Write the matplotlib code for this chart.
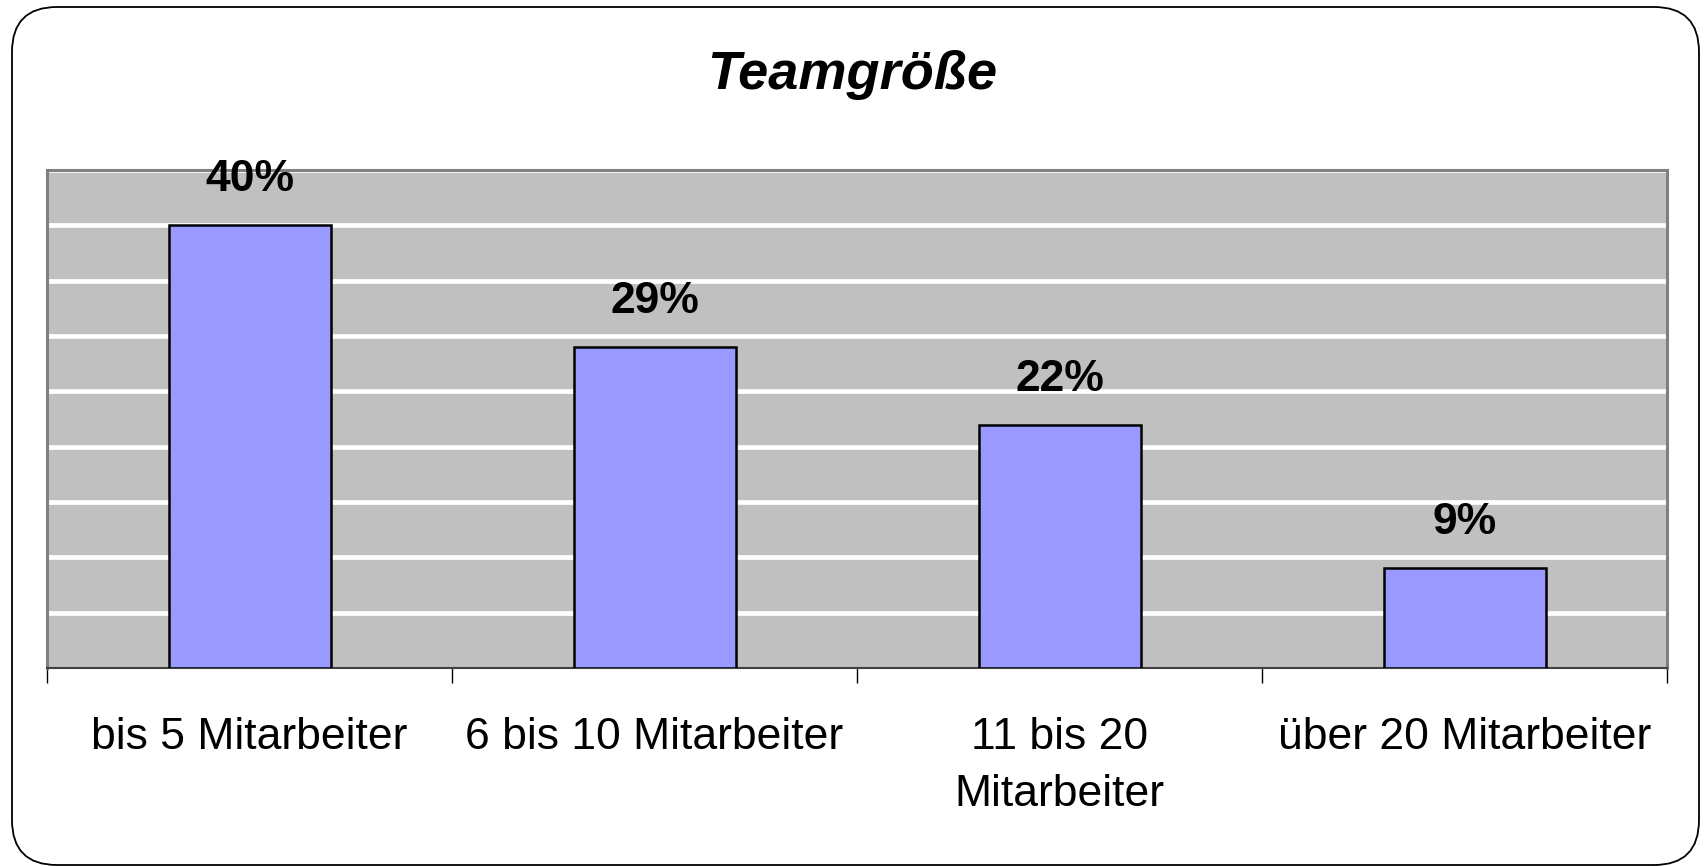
import matplotlib
matplotlib.use("Agg")
import matplotlib.pyplot as plt
from matplotlib.patches import FancyBboxPatch
import numpy as np

categories = ["bis 5 Mitarbeiter", "6 bis 10 Mitarbeiter", "11 bis 20\nMitarbeiter", "über 20 Mitarbeiter"]
values = [0.40, 0.29, 0.22, 0.09]
labels = ["40%", "29%", "22%", "9%"]
title = "Teamgröße"

plt.rcParams['font.family'] = ['Liberation Sans', 'DejaVu Sans']

W, H = 1704, 866
fig = plt.figure(figsize=(W / 100, H / 100), dpi=100)

# rounded outer frame (inches)
box = FancyBboxPatch((0.12, 0.01), 16.87, 8.58,
                     boxstyle="round,pad=0,rounding_size=0.45",
                     transform=fig.dpi_scale_trans, facecolor="none",
                     edgecolor="black", linewidth=1.3, zorder=-1)
fig.patches.append(box)

ax = fig.add_axes([47 / W, 1 - 668 / H, (1667 - 47) / W, (668 - 170) / H])
ax.set_facecolor("#C0C0C0")
x = np.arange(len(categories))
ax.set_xlim(-0.5, len(categories) - 0.5)
ax.set_ylim(0, 0.45)

for yv in np.arange(0.05, 0.451, 0.05):
    ax.axhline(yv, color="white", linewidth=3.4, zorder=1)

ax.bar(x, values, width=0.4, color="#9999FF", edgecolor="black", linewidth=1.8, zorder=3)

for xi, v, lab in zip(x, values, labels):
    ax.annotate(lab, (xi, v), xytext=(0, 18), textcoords="offset points",
                ha="center", va="bottom", fontsize=32, fontweight="bold", color="black")

ax.set_yticks([])
ax.set_xticks(x)
ax.set_xticklabels(categories, fontsize=32, linespacing=1.5)
ax.tick_params(axis="x", which="major", length=0, pad=35)
ax.set_xticks(np.arange(-0.5, len(categories)), minor=True)
ax.tick_params(axis="x", which="minor", length=11, width=1.0, color="black")

for s in ["top", "right", "left"]:
    ax.spines[s].set_color("#808080")
    ax.spines[s].set_linewidth(2.2)
ax.spines["bottom"].set_color("#404040")
ax.spines["bottom"].set_linewidth(1.5)

fig.text(0.5, 1 - 75 / H, title, ha="center", va="center", fontsize=39,
         fontweight="bold", fontstyle="italic")

fig.savefig("out.png", dpi=100)
